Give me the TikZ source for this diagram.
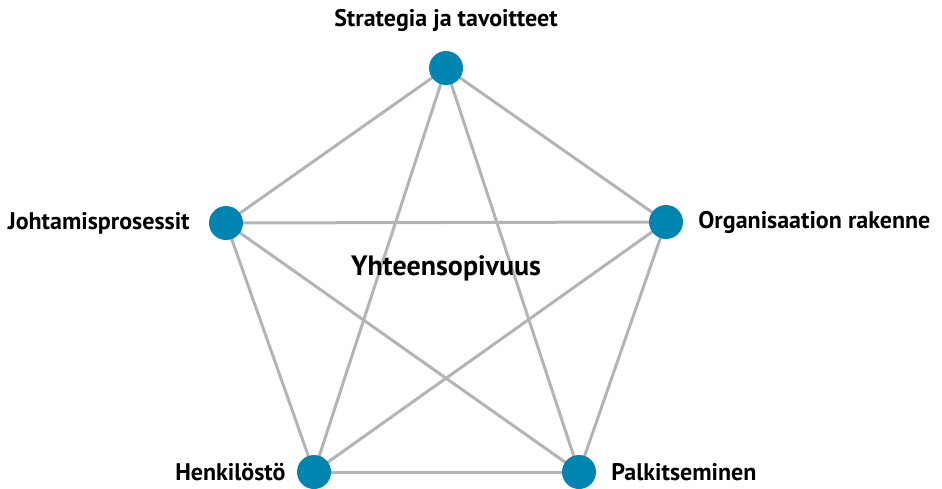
\documentclass[tikz,border=0pt]{standalone}
\usepackage{fontspec}
\setmainfont{PT Sans}
\usetikzlibrary{positioning}
\definecolor{dotblue}{HTML}{0084B0}
\definecolor{linegray}{HTML}{B4B4B4}

\begin{document}
\begin{tikzpicture}[x=1pt,y=-1pt,
  dot/.style={circle, fill=dotblue, inner sep=0pt, minimum size=34pt},
  lab/.style={font=\fontsize{24}{28}\selectfont\bfseries, inner sep=0pt},
  link/.style={draw=linegray, line width=3pt}]
\useasboundingbox (0,0) rectangle (942,489);
% kulmat
\coordinate (S) at (446,68);
\coordinate (J) at (226,223);
\coordinate (O) at (666,222);
\coordinate (H) at (314,472);
\coordinate (P) at (579,472);
% yhteydet
\foreach \a/\b in {S/J,S/O,S/H,S/P,J/O,J/H,J/P,O/H,O/P,H/P}
  \draw[link] (\a) -- (\b);
\foreach \n in {S,J,O,H,P}
  \node[dot] (d\n) at (\n) {};
% tekstit
\node[lab] (tS) at (446,20) {Strategia ja tavoitteet};
\node[lab, left=19pt of dJ] (tJ) {Johtamisprosessit};
\node[lab, right=15pt of dO] (tO) {Organisaation rakenne};
\node[lab, left=11pt of dH] (tH) {Henkilöstö};
\node[lab, right=15pt of dP] (tP) {Palkitseminen};
\node[font=\fontsize{28}{32}\selectfont\bfseries, inner sep=0pt] (Y) at (446,268) {Yhteensopivuus};
\end{tikzpicture}
\end{document}
